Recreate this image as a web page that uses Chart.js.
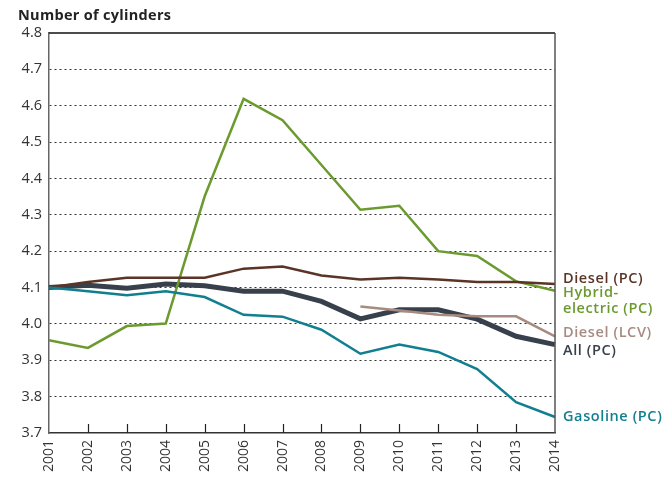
<!DOCTYPE html>
<html>
<head>
<meta charset="utf-8">
<script src="https://cdn.jsdelivr.net/npm/chart.js@4"></script>
<style>
  body { margin: 0; background: #fff; }
  #wrap { position: relative; width: 671px; height: 481px; }
  #title { position: absolute; left: 18px; top: 5px; font: bold 14.5px "Open Sans", sans-serif; letter-spacing: 0.3px; color: #222; }
  canvas { position: absolute; left: 0; top: 0; }
</style>
</head>
<body>
<div id="wrap">
  <canvas id="myChart" width="671" height="481"></canvas>
  <div id="title">Number of cylinders</div>
</div>
<script>
'use strict';
let years = ['2001', '2002', '2003', '2004', '2005', '2006', '2007', '2008', '2009', '2010', '2011', '2012', '2013', '2014'];

let dieselPC = [4.100, 4.115, 4.127, 4.127, 4.127, 4.152, 4.158, 4.133, 4.122, 4.127, 4.122, 4.115, 4.115, 4.110];
let hybridPC = [3.955, 3.934, 3.994, 4.001, 4.351, 4.619, 4.560, 4.437, 4.314, 4.325, 4.200, 4.187, 4.117, 4.091];
let dieselLCV = [null, null, null, null, null, null, null, null, 4.048, 4.037, 4.025, 4.021, 4.021, 3.966];
let allPC = [4.100, 4.106, 4.098, 4.110, 4.105, 4.090, 4.090, 4.062, 4.014, 4.039, 4.039, 4.013, 3.966, 3.943];
let gasolinePC = [4.100, 4.090, 4.079, 4.090, 4.074, 4.025, 4.020, 3.984, 3.918, 3.943, 3.923, 3.876, 3.785, 3.744];

let yMin = 3.7;
let yMax = 4.8;

let font = '"Open Sans", sans-serif';

// series labels at the right end, anchored to a y value
let endLabels = [
  { text: 'Diesel (PC)', color: '#5a3527', at: 4.125 },
  { text: 'Hybrid-', color: '#6b9a2f', at: 4.084 },
  { text: 'electric (PC)', color: '#6b9a2f', at: 4.040 },
  { text: 'Diesel (LCV)', color: '#a88b80', at: 3.974 },
  { text: 'All (PC)', color: '#38414b', at: 3.927 },
  { text: 'Gasoline (PC)', color: '#117f8f', at: 3.743 }
];

let framePlugin = {
  id: 'frame',
  afterDraw(chart) {
    let c = chart.ctx;
    let a = chart.chartArea;
    let x = chart.scales.x;
    let y = chart.scales.y;
    c.save();
    // top and right border
    c.lineWidth = 1.5;
    c.strokeStyle = '#111';
    c.beginPath();
    c.moveTo(a.left, a.top);
    c.lineTo(a.right, a.top);
    c.stroke();
    c.strokeStyle = '#555';
    c.beginPath();
    c.moveTo(a.right, a.top);
    c.lineTo(a.right, a.bottom);
    c.stroke();
    // inner tick marks on the x axis
    c.strokeStyle = '#222';
    c.lineWidth = 1.2;
    for (let i = 1; i < years.length - 1; i++) {
      let px = Math.round(x.getPixelForTick(i)) + 0.5;
      c.beginPath();
      c.moveTo(px, a.bottom);
      c.lineTo(px, a.bottom - 9);
      c.stroke();
    }
    // end labels
    c.font = '600 14.5px ' + font;
    c.letterSpacing = '0.6px';
    c.textBaseline = 'middle';
    c.textAlign = 'left';
    for (let i = 0; i < endLabels.length; i++) {
      c.fillStyle = endLabels[i].color;
      c.fillText(endLabels[i].text, a.right + 8, y.getPixelForValue(endLabels[i].at));
    }
    c.restore();
  }
};

function makeSet(label, data, color, width) {
  return {
    label: label,
    data: data,
    borderColor: color,
    backgroundColor: color,
    borderWidth: width,
    pointRadius: 0,
    tension: 0,
    spanGaps: false,
    borderJoinStyle: 'miter'
  };
}

let ctx = document.getElementById('myChart').getContext('2d');

const myChart = new Chart(ctx, {
  type: 'line',
  data: {
    labels: years,
    datasets: [
      makeSet('Diesel (LCV)', dieselLCV, '#a88b80', 2.5),
      makeSet('Gasoline (PC)', gasolinePC, '#117f8f', 2.5),
      makeSet('Diesel (PC)', dieselPC, '#5a3527', 2.5),
      makeSet('Hybrid-electric (PC)', hybridPC, '#6b9a2f', 2.5),
      makeSet('All (PC)', allPC, '#38414b', 5)
    ]
  },
  options: {
    responsive: false,
    animation: false,
    layout: {
      padding: { top: 33, right: 116, left: 0, bottom: 0 }
    },
    plugins: {
      legend: { display: false },
      tooltip: { enabled: false }
    },
    scales: {
      x: {
        offset: false,
        afterFit(scale) { scale.height = 48; },
        grid: { display: false, drawTicks: false },
        border: { display: true, color: '#333', width: 1.5 },
        ticks: {
          autoSkip: false,
          maxRotation: 90,
          minRotation: 90,
          padding: 7,
          color: '#333',
          font: { family: font, size: 14 }
        }
      },
      y: {
        min: yMin,
        max: yMax,
        afterFit(scale) { scale.width = 49; },
        grid: {
          drawTicks: false,
          lineWidth: 1,
          color(c) {
            let v = c.tick ? c.tick.value : 0;
            if (Math.abs(v - yMax) < 0.001 || Math.abs(v - yMin) < 0.001) return 'rgba(0,0,0,0)';
            return '#333';
          }
        },
        border: { display: true, color: '#666', width: 1.5, dash: [2, 3] },
        ticks: {
          stepSize: 0.1,
          padding: 7,
          color: '#333',
          font: { family: font, size: 14.5 },
          callback(v) { return v.toFixed(1); }
        }
      }
    }
  },
  plugins: [framePlugin]
});
</script>
</body>
</html>
